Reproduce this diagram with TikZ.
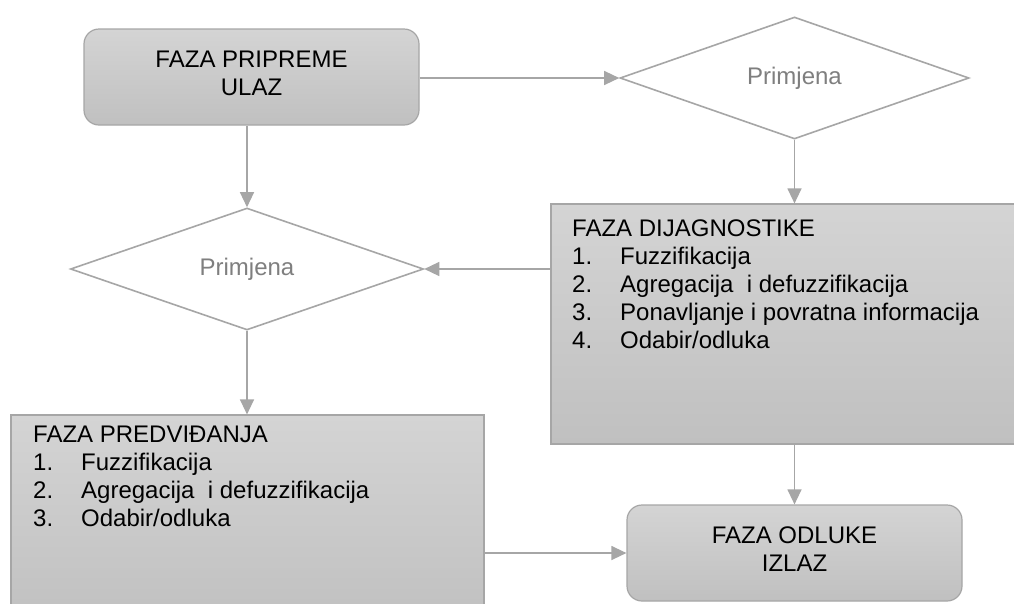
\documentclass[tikz,border=0pt]{standalone}
\usepackage{fontspec}
\setmainfont{Liberation Sans}
\usetikzlibrary{shapes.geometric,arrows.meta}
\definecolor{lineg}{HTML}{A6A6A6}
\definecolor{txtg}{HTML}{7F7F7F}
\definecolor{fillt}{HTML}{D4D4D4}
\definecolor{fillb}{HTML}{C0C0C0}
\begin{document}
\begin{tikzpicture}[x=1pt,y=-1pt,
  phase/.style={draw=lineg, line width=1.2pt, top color=fillt, bottom color=fillb, inner sep=0pt},
  rphase/.style={phase, rounded corners=15pt},
  decision/.style={diamond, draw=lineg, line width=1.6pt, fill=white, inner sep=0pt, text=txtg, font=\fontsize{24}{28}\selectfont},
  conn/.style={draw=lineg, line width=1.3pt, -{Triangle[length=15pt,width=14pt]}},
  boxtext/.style={font=\fontsize{24}{28.5}\selectfont, align=center, text depth=7.5pt},
  listtext/.style={font=\fontsize{24}{27.8}\selectfont, align=left, anchor=north west, inner sep=0pt}
]
\useasboundingbox (0,0) rectangle (1014,603);
\clip (0,0) rectangle (1014,603);
\fill[white] (0,0) rectangle (1014,603);

\node[rphase, boxtext, minimum width=335pt, minimum height=96pt] (prep) at (251.5,77) {FAZA PRIPREME\\ULAZ};
\node[decision, minimum width=349pt, minimum height=122pt] (app1) at (794.5,78) {Primjena};
\node[phase, minimum width=480pt, minimum height=240pt] (diag) at (791,324) {};
\node[listtext] (diagtext) at (572,220) {FAZA DIJAGNOSTIKE\\
\makebox[48pt][l]{1.}Fuzzifikacija\\
\makebox[48pt][l]{2.}Agregacija~ i defuzzifikacija\\
\makebox[48pt][l]{3.}Ponavljanje i povratna informacija\\
\makebox[48pt][l]{4.}Odabir/odluka};
\node[decision, minimum width=353pt, minimum height=122pt] (app2) at (247,269) {Primjena};
\node[phase, minimum width=473pt, minimum height=210pt] (pred) at (247.5,520) {};
\node[listtext] (predtext) at (33,426) {FAZA PREDVIĐANJA\\
\makebox[48pt][l]{1.}Fuzzifikacija\\
\makebox[48pt][l]{2.}Agregacija~ i defuzzifikacija\\
\makebox[48pt][l]{3.}Odabir/odluka};
\node[rphase, boxtext, minimum width=335pt, minimum height=96pt] (out) at (794.5,553) {FAZA ODLUKE\\IZLAZ};

\draw[conn] (prep.east |- app1.west) -- (app1.west);
\draw[conn] (prep.south -| app2.north) -- (app2.north);
\draw[conn] (app1.south) -- (app1.south |- diag.north);
\draw[conn] (diag.west |- app2.east) -- (app2.east);
\draw[conn] (app2.south) -- (app2.south |- pred.north);
\draw[conn] (diag.south -| out.north) -- (out.north);
\draw[conn] (pred.east |- out.west) -- (out.west);
\end{tikzpicture}
\end{document}
